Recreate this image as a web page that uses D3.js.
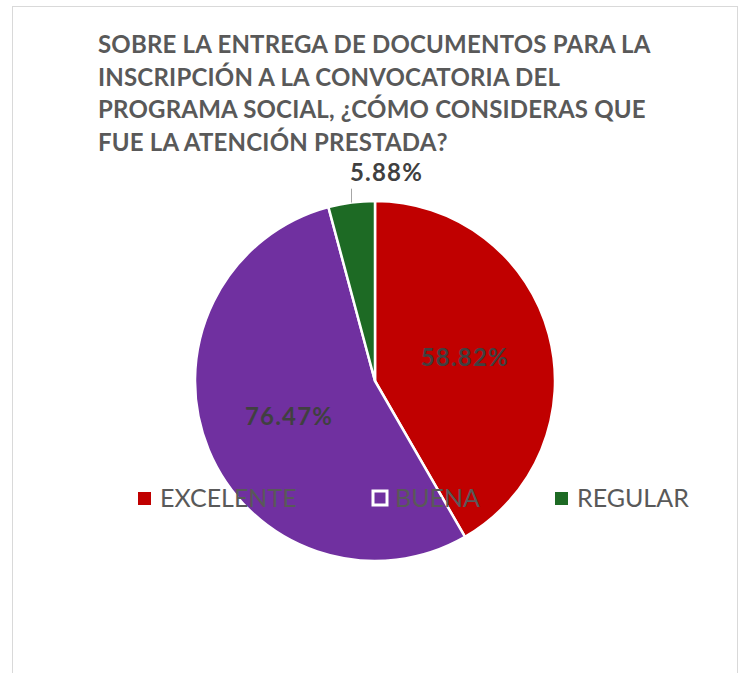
<!DOCTYPE html>
<html>
<head>
<meta charset="utf-8">
<script src="https://cdn.jsdelivr.net/npm/d3@7"></script>
<style>
  html, body { margin: 0; padding: 0; background: #ffffff; }
  svg { display: block; }
</style>
</head>
<body>
<svg id="chart" width="743" height="673"></svg>
<script>
// Survey answers: share of respondents per rating
const categories = ["EXCELENTE", "BUENA", "REGULAR"];
const values = [58.82, 76.47, 5.88];
const colors = ["#C00000", "#7030A0", "#1D6A24"];
const titleLines = [
  "SOBRE LA ENTREGA DE DOCUMENTOS PARA LA",
  "INSCRIPCIÓN A LA CONVOCATORIA DEL",
  "PROGRAMA SOCIAL, ¿CÓMO CONSIDERAS QUE",
  "FUE LA ATENCIÓN PRESTADA?"
];

const svg = d3.select("#chart");
const font = "Lato, 'Open Sans', sans-serif";

// chart frame
svg.append("rect")
  .attr("x", 12.5).attr("y", 6.5)
  .attr("width", 725).attr("height", 700)
  .attr("fill", "#ffffff")
  .attr("stroke", "#d9d9d9").attr("stroke-width", 1);

// title
svg.append("g")
  .selectAll("text")
  .data(titleLines)
  .join("text")
  .attr("x", 98)
  .attr("y", (d, i) => 53 + i * 32.6)
  .attr("font-family", font)
  .attr("font-weight", 700)
  .attr("font-size", 24)
  .attr("letter-spacing", 0.2)
  .attr("fill", "#595959")
  .text(d => d);

// pie
const cx = 375, cy = 381, R = 180;
const pie = d3.pie().sort(null).value(d => d.value);
const arcs = pie(categories.map((c, i) => ({ cat: c, value: values[i], color: colors[i] })));
const arc = d3.arc().innerRadius(0).outerRadius(R);
const labelArc = d3.arc().innerRadius(93).outerRadius(93);

const g = svg.append("g").attr("transform", `translate(${cx},${cy})`);
g.selectAll("path")
  .data(arcs)
  .join("path")
  .attr("d", arc)
  .attr("fill", d => d.data.color)
  .attr("stroke", "#ffffff")
  .attr("stroke-width", 2.5)
  .attr("stroke-linejoin", "round");

const fmt = v => v.toFixed(2) + "%";

// inside labels for the two large slices
g.selectAll("text.inside")
  .data(arcs.filter(d => d.data.cat !== "REGULAR"))
  .join("text")
  .attr("class", "inside")
  .attr("transform", d => `translate(${labelArc.centroid(d)})`)
  .attr("text-anchor", "middle")
  .attr("dy", "0.36em")
  .attr("font-family", font)
  .attr("font-weight", 700)
  .attr("font-size", 24)
  .attr("letter-spacing", 1.2)
  .attr("fill", "#404040")
  .text(d => fmt(d.data.value));

// outside label with leader line for the small slice
const small = arcs.find(d => d.data.cat === "REGULAR");
const mid = (small.startAngle + small.endAngle) / 2;
const p0 = [Math.sin(mid) * R, -Math.cos(mid) * R];
const p1 = [Math.sin(mid) * (R + 14), -Math.cos(mid) * (R + 14)];
g.append("line")
  .attr("x1", p0[0]).attr("y1", p0[1])
  .attr("x2", p0[0]).attr("y2", p1[1])
  .attr("stroke", "#a6a6a6").attr("stroke-width", 1);
g.append("text")
  .attr("x", p0[0] + 35)
  .attr("y", p1[1] - 8)
  .attr("text-anchor", "middle")
  .attr("font-family", font)
  .attr("font-weight", 700)
  .attr("font-size", 24)
  .attr("letter-spacing", 1.2)
  .attr("fill", "#404040")
  .text(fmt(small.data.value));

// legend, overlaid on the plot area
const legendX = [138, 371, 555];
const legend = svg.append("g")
  .selectAll("g")
  .data(arcs)
  .join("g")
  .attr("transform", (d, i) => `translate(${legendX[i]},491)`);
legend.append("rect")
  .attr("x", d => d.data.cat === "BUENA" ? 2 : 0)
  .attr("y", d => d.data.cat === "BUENA" ? 0 : 1)
  .attr("width", d => d.data.cat === "BUENA" ? 14 : 13)
  .attr("height", d => d.data.cat === "BUENA" ? 14 : 13)
  .attr("fill", d => d.data.cat === "BUENA" ? "none" : d.data.color)
  .attr("stroke", d => d.data.cat === "BUENA" ? "#ffffff" : "none")
  .attr("stroke-width", 3);
legend.append("text")
  .attr("x", d => d.data.cat === "BUENA" ? 24 : 22)
  .attr("y", 16)
  .attr("font-family", font)
  .attr("font-size", 25)
  .attr("fill", "#595959")
  .text(d => d.data.cat);
</script>
</body>
</html>
